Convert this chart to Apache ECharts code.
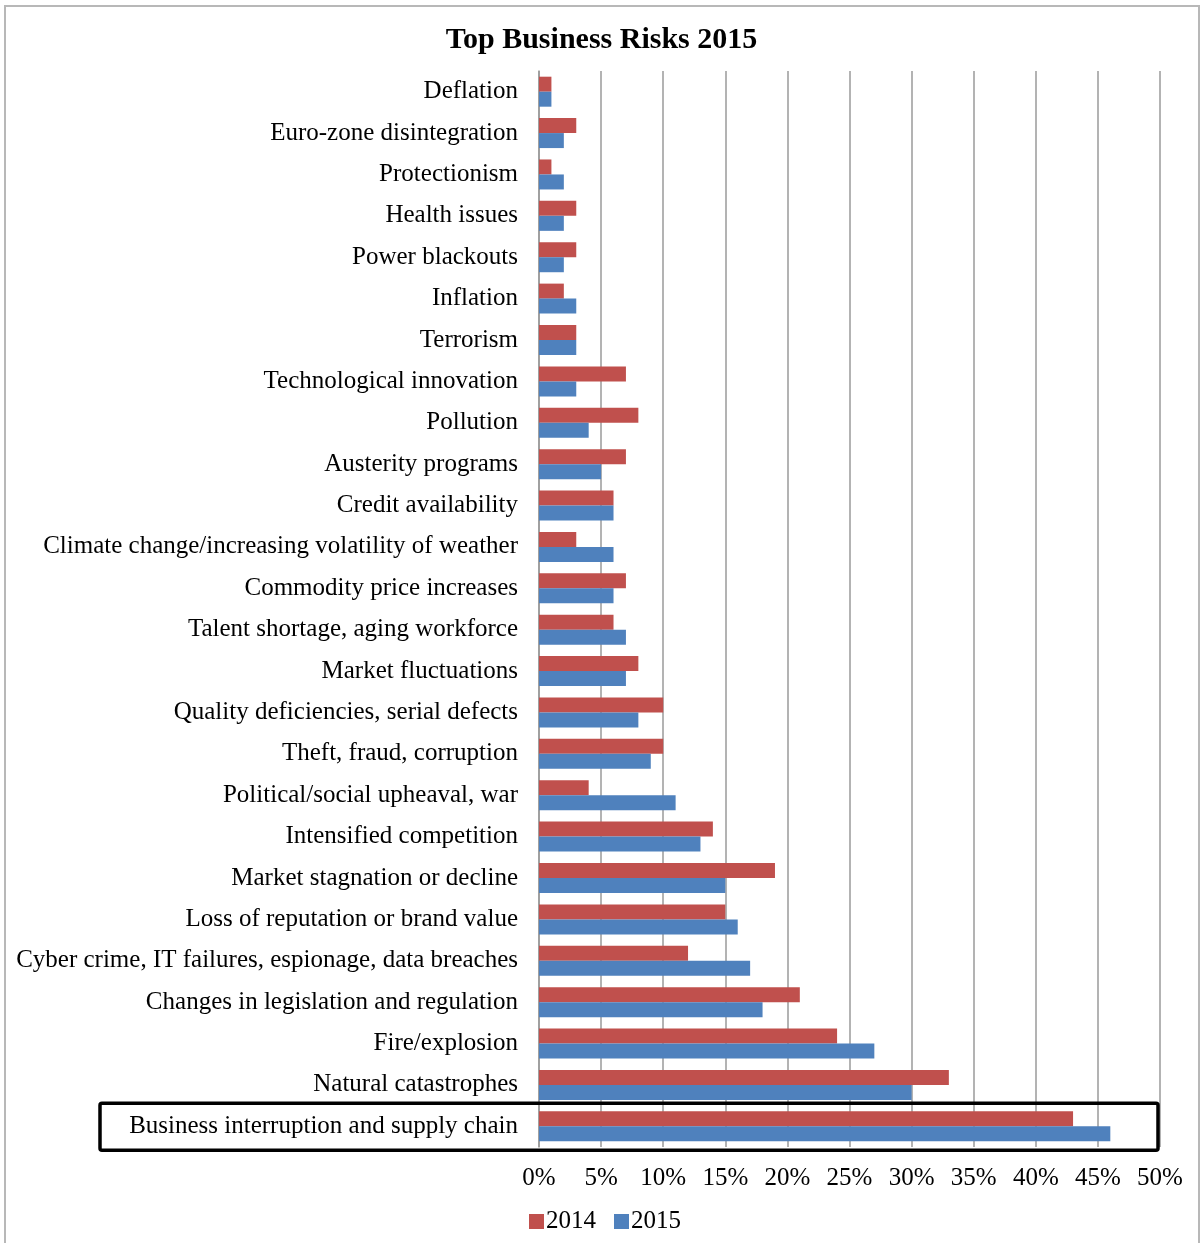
<!DOCTYPE html>
<html>
<head>
<meta charset="utf-8">
<script src="https://cdn.jsdelivr.net/npm/echarts@6/dist/echarts.min.js"></script>
<style>html,body{margin:0;padding:0;background:#fff}#c{width:1203px;height:1243px}</style>
</head>
<body>
<div id="c"></div>
<script>
// Categories listed bottom to top (ECharts category y-axis starts at bottom)
var categories = [
  'Business interruption and supply chain',
  'Natural catastrophes',
  'Fire/explosion',
  'Changes in legislation and regulation',
  'Cyber crime, IT failures, espionage, data breaches',
  'Loss of reputation or brand value',
  'Market stagnation or decline',
  'Intensified competition',
  'Political/social upheaval, war',
  'Theft, fraud, corruption',
  'Quality deficiencies, serial defects',
  'Market fluctuations',
  'Talent shortage, aging workforce',
  'Commodity price increases',
  'Climate change/increasing volatility of weather',
  'Credit availability',
  'Austerity programs',
  'Pollution',
  'Technological innovation',
  'Terrorism',
  'Inflation',
  'Power blackouts',
  'Health issues',
  'Protectionism',
  'Euro-zone disintegration',
  'Deflation'
];
var values2014 = [43, 33, 24, 21, 12, 15, 19, 14, 4, 10, 10, 8, 6, 7, 3, 6, 7, 8, 7, 3, 2, 3, 3, 1, 3, 1];
var values2015 = [46, 30, 27, 18, 17, 16, 15, 13, 11, 9, 8, 7, 7, 6, 6, 6, 5, 4, 3, 3, 3, 2, 2, 2, 2, 1];
var tickValues = [0, 5, 10, 15, 20, 25, 30, 35, 40, 45, 50];
var highlighted = 'Business interruption and supply chain';

var serif = '"Liberation Serif", "DejaVu Serif", serif';
var chart = echarts.init(document.getElementById('c'));
var option = {
  backgroundColor: '#fff',
  animation: false,
  title: {
    text: 'Top Business Risks 2015',
    left: 'center', top: 20,
    textStyle: {fontFamily: serif, fontSize: 30, fontWeight: 'bold', color: '#000'}
  },
  legend: {
    data: ['2014', '2015'],
    left: 524, top: 1204,
    itemWidth: 15, itemHeight: 15, itemGap: 18,
    icon: 'rect',
    textStyle: {fontFamily: serif, fontSize: 25, color: '#000', padding: [0, 0, 0, -3]}
  },
  grid: {left: 539, right: 43, top: 71, bottom: 96, containLabel: false},
  xAxis: {
    type: 'value', min: tickValues[0], max: tickValues[tickValues.length - 1], interval: 5,
    axisLine: {show: false}, axisTick: {show: false},
    axisLabel: {formatter: '{value}%', fontFamily: serif, fontSize: 25, color: '#000', margin: 19},
    splitLine: {show: true, lineStyle: {color: '#9a9a9a', width: 1.5}}
  },
  yAxis: {
    type: 'category', data: categories,
    axisLine: {show: true, lineStyle: {color: '#9a9a9a', width: 1.5}},
    axisTick: {show: false},
    axisLabel: {fontFamily: serif, fontSize: 25, color: '#000', margin: 21}
  },
  series: [
    {name: '2014', type: 'bar', data: values2014, barWidth: 15, barGap: '0%',
     itemStyle: {color: '#C0504D'}},
    {name: '2015', type: 'bar', data: values2015, barWidth: 15, barGap: '0%',
     itemStyle: {color: '#4F81BD'}}
  ]
};
chart.setOption(option);

// Frame and highlight box (annotation, positioned from the axis scale)
var yc = chart.convertToPixel({yAxisIndex: 0}, highlighted);
var xEnd = chart.convertToPixel({xAxisIndex: 0}, 50);
chart.setOption({
  graphic: [
    {type: 'rect', shape: {x: 5, y: 6, width: 1194, height: 1260},
     style: {fill: null, stroke: '#b8b8b8', lineWidth: 2}, silent: true},
    {type: 'rect', shape: {x: 100, y: yc - 23, width: xEnd - 2 - 100, height: 47, r: 2},
     style: {fill: null, stroke: '#000', lineWidth: 3.5}, silent: true, z: 100}
  ]
});
</script>
</body>
</html>
